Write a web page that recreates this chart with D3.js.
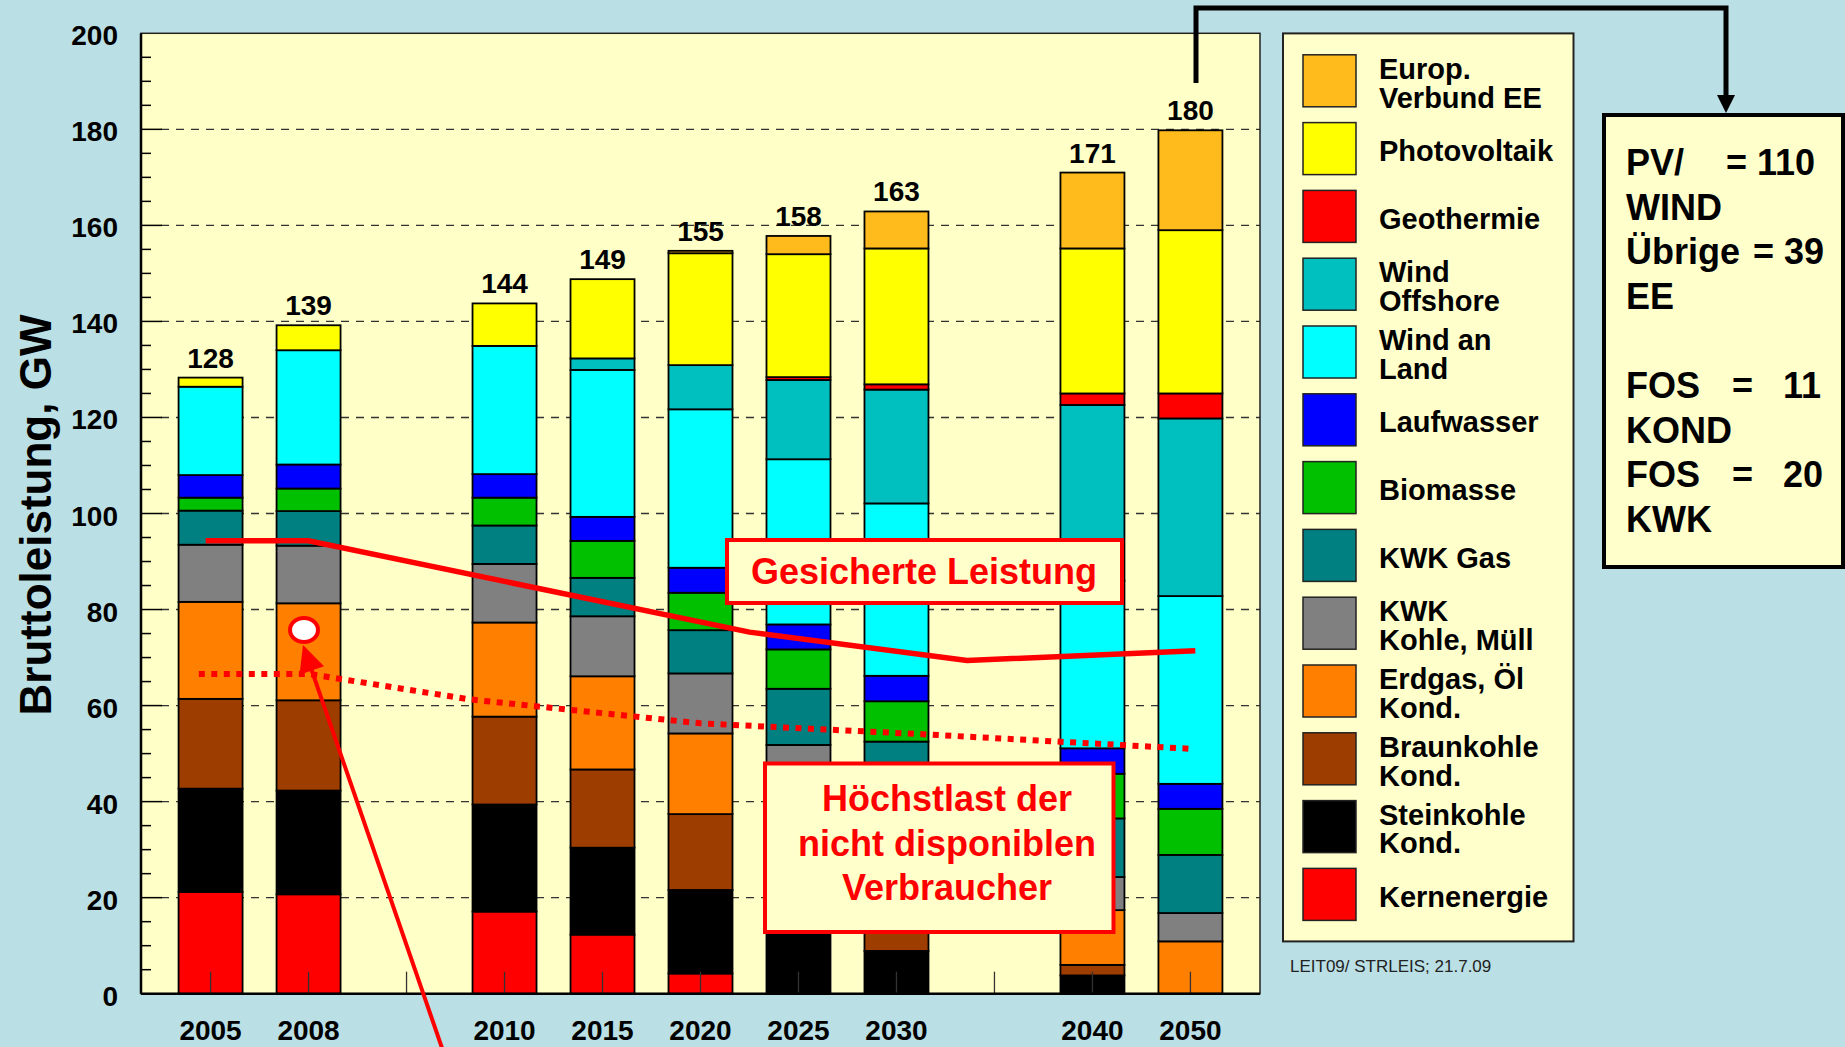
<!DOCTYPE html>
<html>
<head>
<meta charset="utf-8">
<script src="https://cdn.jsdelivr.net/npm/d3@7"></script>
<style>
  body { margin: 0; background: #badfe4; }
  svg { display: block; font-family: "Liberation Sans", Arial, sans-serif; }
</style>
</head>
<body>
<svg></svg>
<script>
// ---- data ----
var years  = ["2005", "2008", "2010", "2015", "2020", "2025", "2030", "2040", "2050"];
var slots  = [0, 1, 3, 4, 5, 6, 7, 9, 10];          // category position on the axis (gaps at 2 and 8)
var totals = [128, 139, 144, 149, 155, 158, 163, 171, 180];

// GW per source, bottom of stack first
var kern     = [21.2, 20.7, 17.1, 12.3,  4.2,  0,    0,    0,    0];
var stein    = [21.5, 21.6, 22.3, 18.1, 17.4, 15.0,  8.9,  3.8,  0];
var braun    = [18.7, 18.8, 18.3, 16.3, 15.8, 13.0, 11.6,  2.2,  0];
var erdgas   = [20.2, 20.2, 19.6, 19.4, 16.8, 13.0, 12.0, 11.4, 10.9];
var kwkKohle = [11.9, 12.0, 12.2, 12.5, 12.5, 10.8, 10.0,  6.9,  5.9];
var kwkGas   = [ 7.1,  7.2,  8.0,  8.0,  9.0, 11.7, 10.0, 12.2, 12.1];
var bio      = [ 2.7,  4.7,  5.8,  7.7,  7.8,  8.2,  8.4,  9.3,  9.6];
var lauf     = [ 4.7,  5.0,  4.9,  5.0,  5.2,  5.2,  5.3,  5.3,  5.2];
var windLand = [18.4, 23.8, 26.7, 30.6, 33.0, 34.4, 35.9, 34.9, 39.1];
var windOff  = [ 0,    0,    0,    2.4,  9.2, 16.5, 23.7, 36.6, 37.0];
var geo      = [ 0,    0,    0,    0,    0,    0.6,  1.1,  2.4,  5.2];
var pv       = [ 1.9,  5.2,  8.85, 16.5, 23.3, 25.6, 28.3, 30.2, 34.0];
var europ    = [ 0,    0,    0,    0,    0.5,  3.8,  7.7, 15.8, 20.8];

var keys   = ["kern", "stein", "braun", "erdgas", "kwkKohle", "kwkGas", "bio", "lauf", "windLand", "windOff", "geo", "pv", "europ"];
var values = [kern, stein, braun, erdgas, kwkKohle, kwkGas, bio, lauf, windLand, windOff, geo, pv, europ];
var colors = ["#ff0000", "#000000", "#9e3d00", "#ff8000", "#808080", "#008080", "#00c000", "#0000ff", "#00ffff", "#00bfbf", "#ff0000", "#ffff00", "#ffbb1c"];
var legendLabels = [["Kernenergie"], ["Steinkohle", "Kond."], ["Braunkohle", "Kond."], ["Erdgas, Öl", "Kond."],
  ["KWK", "Kohle, Müll"], ["KWK Gas"], ["Biomasse"], ["Laufwasser"], ["Wind an", "Land"], ["Wind", "Offshore"],
  ["Geothermie"], ["Photovoltaik"], ["Europ.", "Verbund EE"]];

// overlay lines: position on the category axis, GW
var gesX = [-0.05, 1, 5.5, 7.72, 10.05];
var gesV = [94.3, 94.3, 75.3, 69.4, 71.4];
var hoeX = [-0.12, 1, 2.64, 5.0, 7.3, 10.0];
var hoeV = [66.6, 66.6, 61.3, 56.3, 54.0, 51.0];

var infoLines = [["PV/", "= 110"], ["WIND"], ["Übrige", "= 39"], ["EE"], [""], ["FOS", "=", "11"], ["KOND"], ["FOS", "=", "20"], ["KWK"]];

// ---- drawing ----
var W = 1845, H = 1047;
var svg = d3.select("svg").attr("width", W).attr("height", H);
var pL = 141, pR = 1260, pT = 33.3, pB = 993.7;

var x = d3.scaleLinear().domain([-0.71, 10.71]).range([pL, pR]);
var y = d3.scaleLinear().domain([0, 200]).range([pB, pT]);
var barW = 64;

svg.append("rect").attr("width", W).attr("height", H).attr("fill", "#badfe4");
svg.append("rect").attr("x", pL).attr("y", pT).attr("width", pR - pL).attr("height", pB - pT)
  .attr("fill", "#ffffc8");

// gridlines
svg.append("g").selectAll("line").data(d3.range(20, 200, 20)).enter().append("line")
  .attr("x1", pL + 20).attr("x2", pR).attr("y1", function(d) { return y(d); }).attr("y2", function(d) { return y(d); })
  .attr("stroke", "#333").attr("stroke-width", 1.4).attr("stroke-dasharray", "8 7");

// y ticks (minor every 5, major every 20)
svg.append("g").selectAll("line").data(d3.range(5, 200, 5)).enter().append("line")
  .attr("x1", pL).attr("x2", function(d) { return pL + (d % 20 === 0 ? 21 : 10); })
  .attr("y1", function(d) { return y(d); }).attr("y2", function(d) { return y(d); })
  .attr("stroke", "#000").attr("stroke-width", 1.5);

// stacked bars
var rows = years.map(function(yr, i) {
  var r = { year: yr, slot: slots[i] };
  keys.forEach(function(k, j) { r[k] = values[j][i]; });
  return r;
});
var stacked = d3.stack().keys(keys)(rows);

svg.append("g").selectAll("g").data(stacked).enter().append("g")
  .attr("fill", function(d, i) { return colors[i]; })
  .selectAll("rect").data(function(d) { return d.filter(function(s) { return s[1] - s[0] > 0; }); })
  .enter().append("rect")
  .attr("x", function(d) { return x(d.data.slot) - barW / 2; })
  .attr("width", barW)
  .attr("y", function(d) { return y(d[1]); })
  .attr("height", function(d) { return y(d[0]) - y(d[1]); })
  .attr("stroke", "#000").attr("stroke-width", 1.8);

// x ticks (drawn over the bars)
svg.append("g").selectAll("line").data(d3.range(0, 11)).enter().append("line")
  .attr("x1", function(d) { return x(d); }).attr("x2", function(d) { return x(d); })
  .attr("y1", pB).attr("y2", pB - 22)
  .attr("stroke", "#333").attr("stroke-width", 1.3);

// axes frame
svg.append("rect").attr("x", pL).attr("y", pT).attr("width", pR - pL).attr("height", pB - pT)
  .attr("fill", "none").attr("stroke", "#222").attr("stroke-width", 1.5);
svg.append("line").attr("x1", pL).attr("x2", pL).attr("y1", pT).attr("y2", pB).attr("stroke", "#000").attr("stroke-width", 2.5);
svg.append("line").attr("x1", pL).attr("x2", pR).attr("y1", pB).attr("y2", pB).attr("stroke", "#000").attr("stroke-width", 2.5);

// y labels
svg.append("g").selectAll("text").data(d3.range(0, 201, 20)).enter().append("text")
  .attr("x", 118).attr("y", function(d) { return y(d) + 12; })
  .attr("text-anchor", "end").attr("font-size", 28).attr("font-weight", "bold")
  .text(function(d) { return d; });

// x labels
svg.append("g").selectAll("text").data(rows).enter().append("text")
  .attr("x", function(d) { return x(d.slot); }).attr("y", 1040)
  .attr("text-anchor", "middle").attr("font-size", 28).attr("font-weight", "bold")
  .text(function(d) { return d.year; });

// totals above bars
svg.append("g").selectAll("text").data(rows).enter().append("text")
  .attr("x", function(d) { return x(d.slot); })
  .attr("y", function(d, i) { return y(d3.sum(values, function(s) { return s[i]; })) - 10; })
  .attr("text-anchor", "middle").attr("font-size", 28).attr("font-weight", "bold")
  .text(function(d, i) { return totals[i]; });

// y axis title
svg.append("text").attr("transform", "translate(51,515) rotate(-90)")
  .attr("text-anchor", "middle").attr("font-size", 44).attr("font-weight", "bold")
  .text("Bruttoleistung, GW");

// overlay lines
var line = d3.line().x(function(d) { return x(d[0]); }).y(function(d) { return y(d[1]); });
svg.append("path").datum(gesX.map(function(v, i) { return [v, gesV[i]]; })).attr("d", line)
  .attr("fill", "none").attr("stroke", "#ff0000").attr("stroke-width", 5.5);
svg.append("path").datum(hoeX.map(function(v, i) { return [v, hoeV[i]]; })).attr("d", line)
  .attr("fill", "none").attr("stroke", "#ff0000").attr("stroke-width", 6).attr("stroke-dasharray", "6 6.5");

// annotation boxes
svg.append("rect").attr("x", 727).attr("y", 540).attr("width", 395).attr("height", 63)
  .attr("fill", "#ffffcc").attr("stroke", "#ff0000").attr("stroke-width", 4);
svg.append("text").attr("x", 924).attr("y", 584).attr("text-anchor", "middle")
  .attr("font-size", 36).attr("font-weight", "bold").attr("fill", "#ff0000").text("Gesicherte Leistung");

svg.append("rect").attr("x", 765).attr("y", 763.5).attr("width", 348.5).attr("height", 168.5)
  .attr("fill", "#ffffcc").attr("stroke", "#ff0000").attr("stroke-width", 4);
svg.append("g").selectAll("text").data(["Höchstlast der", "nicht disponiblen", "Verbraucher"]).enter().append("text")
  .attr("x", 947).attr("y", function(d, i) { return 811 + i * 44.5; }).attr("text-anchor", "middle")
  .attr("font-size", 36).attr("font-weight", "bold").attr("fill", "#ff0000").text(function(d) { return d; });

// red pointer to the 2008 bar
var tipX = 303, tipY = 645;
var dx = 0.326, dy = 0.945;
svg.append("line").attr("x1", tipX + dx * 440).attr("y1", tipY + dy * 440)
  .attr("x2", tipX + dx * 22).attr("y2", tipY + dy * 22)
  .attr("stroke", "#ff0000").attr("stroke-width", 4);
var bx = tipX + dx * 27, by = tipY + dy * 27;
svg.append("polygon")
  .attr("points", [[tipX, tipY], [bx - dy * 13, by + dx * 13], [bx + dy * 13, by - dx * 13]].join(" "))
  .attr("fill", "#ff0000");
svg.append("ellipse").attr("cx", 304).attr("cy", 630).attr("rx", 14).attr("ry", 12)
  .attr("fill", "#fff").attr("stroke", "#ff0000").attr("stroke-width", 4);

// legend
var lg = svg.append("g");
lg.append("rect").attr("x", 1283).attr("y", 33.4).attr("width", 290.5).attr("height", 908)
  .attr("fill", "#ffffcc").attr("stroke", "#222").attr("stroke-width", 2);
var items = lg.selectAll("g").data(d3.range(keys.length).reverse()).enter().append("g")
  .attr("transform", function(d, i) { return "translate(0," + (54.8 + i * 67.8) + ")"; });
items.append("rect").attr("x", 1303).attr("width", 53).attr("height", 52)
  .attr("fill", function(d) { return colors[d]; }).attr("stroke", "#222").attr("stroke-width", 1.5);
items.each(function(d) {
  var lab = legendLabels[d];
  var g = d3.select(this);
  lab.forEach(function(t, j) {
    g.append("text").attr("x", 1379)
      .attr("y", 26 + 2 + 10.4 + (j - (lab.length - 1) / 2) * 29)
      .attr("font-size", 29).attr("font-weight", "bold").text(t);
  });
});
svg.append("text").attr("x", 1290).attr("y", 972).attr("font-size", 17).attr("fill", "#222")
  .text("LEIT09/ STRLEIS; 21.7.09");

// connector arrow to the info box
svg.append("path").attr("d", "M1196,83 V8 H1726 V97")
  .attr("fill", "none").attr("stroke", "#000").attr("stroke-width", 5).attr("stroke-linejoin", "miter");
svg.append("polygon").attr("points", "1717,95 1735,95 1726,113").attr("fill", "#000");

// info box
svg.append("rect").attr("x", 1604).attr("y", 115).attr("width", 239).attr("height", 452)
  .attr("fill", "#ffffcc").attr("stroke", "#000").attr("stroke-width", 4);
var infoX = [1626, 1726, 1783];
infoLines.forEach(function(parts, i) {
  parts.forEach(function(t, j) {
    var xx = infoX[j];
    if (parts.length === 2 && j === 1) xx = (i === 0 ? 1726 : 1753);
    if (parts.length === 3 && j === 1) xx = 1732;
    svg.append("text").attr("x", xx).attr("y", 175 + i * 44.6)
      .attr("font-size", 36).attr("font-weight", "bold").text(t);
  });
});
</script>
</body>
</html>
